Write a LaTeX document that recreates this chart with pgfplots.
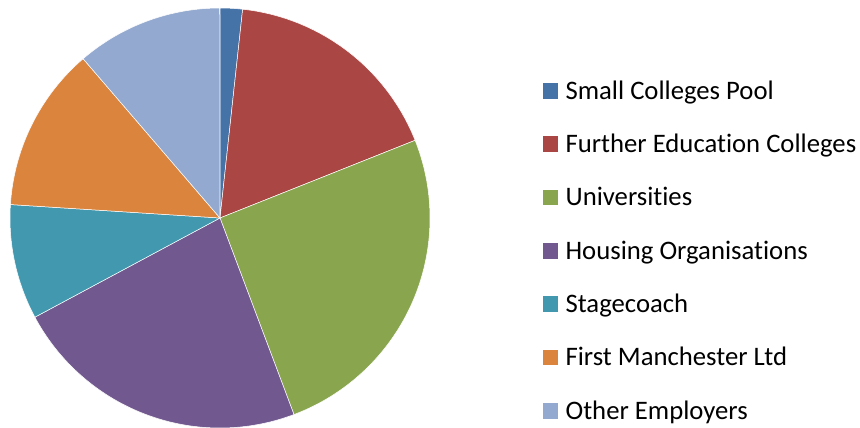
\documentclass[border=0pt]{standalone}
\usepackage{pgfplots}
\usepackage{pgfplotstable}
\pgfplotsset{compat=1.18}
\usepackage{fontspec}
\setmainfont{Carlito}[Ligatures=NoCommon]
\definecolor{pie0}{HTML}{4572A7}
\definecolor{pie1}{HTML}{AA4643}
\definecolor{pie2}{HTML}{89A54E}
\definecolor{pie3}{HTML}{71588F}
\definecolor{pie4}{HTML}{4198AF}
\definecolor{pie5}{HTML}{DB843D}
\definecolor{pie6}{HTML}{93A9CF}
\pgfplotstableread[col sep=comma]{
label,value
Small Colleges Pool,1.72
Further Education Colleges,17.25
Universities,25.3
Housing Organisations,22.9
Stagecoach,8.85
First Manchester Ltd,12.68
Other Employers,11.28
}\piedata
\begin{document}
\begin{tikzpicture}
\useasboundingbox (0,0) rectangle (860pt,428pt);
\begin{axis}[
  at={(220pt,210pt)}, anchor=origin,
  scale only axis, width=420pt, height=420pt,
  xmin=-1, xmax=1, ymin=-1, ymax=1,
  hide axis, clip=false,
  legend cell align=left,
  legend image code/.code={\fill[#1] (0pt,-8.3pt) rectangle (16.6pt,8.3pt);},
  legend style={at={(1.2655,0.839)}, anchor=north west, draw=none, fill=none,
    inner sep=0pt, outer sep=0pt, row sep=23.1pt,
    font=\fontsize{26.7pt}{32pt}\selectfont,
    nodes={inner sep=0pt, outer sep=0pt, text height=23.7pt, text depth=6.5pt},
    /tikz/every odd column/.append style={column sep=7pt}},
]
\def\cum{0}
\pgfplotsforeachungrouped \i in {0,...,6}{%
  \pgfplotstablegetelem{\i}{value}\of\piedata \let\v\pgfplotsretval
  \pgfplotstablegetelem{\i}{label}\of\piedata \let\lab\pgfplotsretval
  \pgfmathsetmacro\a{90-3.6*\cum}%
  \pgfmathsetmacro\b{90-3.6*(\cum+\v)}%
  \pgfmathsetmacro\cum{\cum+\v}%
  \edef\cmd{\noexpand\addplot[fill=pie\i, draw=white, line width=0.5pt, domain=\b:\a, samples=120] ({cos(x)},{sin(x)}) -- (axis cs:0,0) -- cycle;}%
  \cmd
  \addlegendentryexpanded{\lab}%
}
\end{axis}
\end{tikzpicture}
\end{document}
